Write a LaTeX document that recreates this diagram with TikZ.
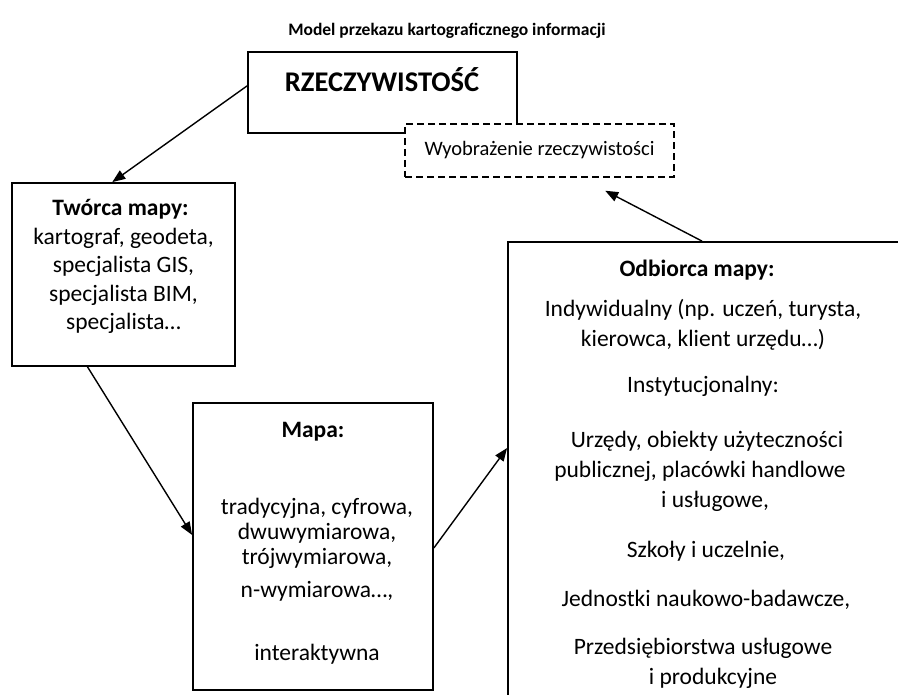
\documentclass[tikz,border=0pt]{standalone}
\usepackage{fontspec}
\setmainfont{Carlito}
\usetikzlibrary{arrows.meta,calc}
\newcommand{\padr}[1]{\hbox to #1{}}
\begin{document}
\begin{tikzpicture}[x=1pt,y=-1pt,
  box/.style={draw, line width=1.8pt, fill=white, inner sep=0pt},
  dbox/.style={box, line width=1.5pt, dash pattern=on 7pt off 4pt},
  txt/.style={align=center, inner sep=0pt, anchor=base},
  arr/.style={-{Triangle[length=13pt,width=10pt]}, line width=1.4pt},
  body/.style={font=\fontsize{23.5}{28.5}\selectfont}
]
\useasboundingbox (0,0) rectangle (898,695);
\clip (0,0) rectangle (898,695);
% title
\node[txt, font=\bfseries\fontsize{17.5}{20}\selectfont] (title) at (447,36) {Model przekazu kartograficznego informacji};
% reality
\node[box, minimum width=269pt, minimum height=81pt] (rz) at (382.5,92.5) {};
\node[txt, font=\bfseries\fontsize{28.5}{32}\selectfont] (rzt) at (382,92) {RZECZYWISTOŚĆ};
\node[dbox, minimum width=269pt, minimum height=53pt, font=\fontsize{20.5}{24}\selectfont] (wyo) at (539.5,150.5) {Wyobrażenie rzeczywistości};
% creator (anchor=base puts the last line's baseline at the given point)
\node[box, minimum width=223pt, minimum height=183pt] (tw) at (123.5,274.5) {};
\node[txt, body] (twt) at (123.5,330) {\textbf{Twórca mapy:}\padr{6pt}\\ kartograf, geodeta,\\ specjalista GIS,\\ specjalista BIM,\\ specjalista…};
% map
\node[box, minimum width=240pt, minimum height=287pt] (mapa) at (313,546.5) {};
\node[txt, font=\fontsize{23.5}{25}\selectfont] (mapat) at (317,660) {\textbf{Mapa:}\padr{8pt}\\[52pt] tradycyjna, cyfrowa,\\ dwuwymiarowa,\\ trójwymiarowa,\\[8pt] n-wymiarowa…,\\[38pt] interaktywna};
% receiver
\node[box, minimum width=412pt, minimum height=498pt] (odb) at (714,491) {};
\node[txt, font=\fontsize{23.5}{30}\selectfont] (odbt) at (703,684) {\textbf{Odbiorca mapy:}\padr{12pt}\\[10pt] Indywidualny (np. uczeń, turysta,\\ kierowca, klient urzędu…)\\[16pt] Instytucjonalny:\\[25pt] \padr{8pt}Urzędy, obiekty użyteczności\\ publicznej, placówki handlowe\padr{6pt}\\ \padr{24pt}i usługowe,\\[20pt] \padr{6pt}Szkoły i uczelnie,\\[19pt] \padr{6pt}Jednostki naukowo-badawcze,\\[18pt] Przedsiębiorstwa usługowe\\ \padr{20pt}i produkcyjne};
% connectors
\draw[arr] ($(rz.north west)!0.42!(rz.south west)$) -- ($(tw.north west)!0.45!(tw.north east)$);
\draw[arr] ($(tw.south west)!0.34!(tw.south east)$) -- ($(mapa.north west)!0.46!(mapa.south west)$);
\draw[arr] ($(mapa.north east)!0.505!(mapa.south east)$) -- ($(odb.north west)!0.414!(odb.south west)$);
\coordinate (wyoin) at ($(wyo.south west)!0.743!(wyo.south east)+(0,13)$);
\draw[arr] ($(odb.north west)!0.471!(odb.north east)$) -- (wyoin);
\end{tikzpicture}
\end{document}
